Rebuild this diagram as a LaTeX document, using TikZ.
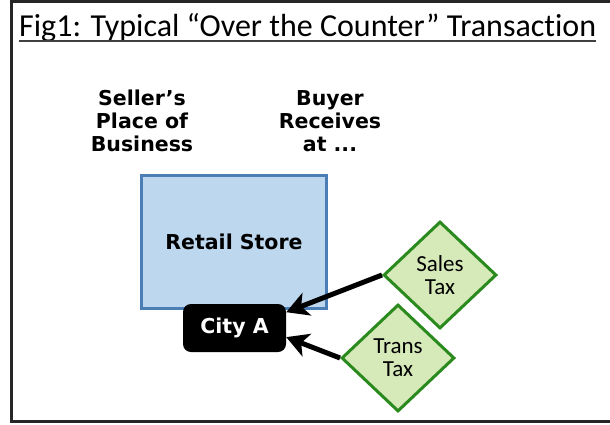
\documentclass[tikz,border=0pt]{standalone}
\usepackage{fontspec}
\setmainfont{Carlito}[Ligatures=NoCommon]
\newfontfamily\labelfont{DejaVu Sans}
\usetikzlibrary{arrows.meta, positioning, shapes}

\definecolor{storeblue}{HTML}{BDD7EE}
\definecolor{storeline}{HTML}{4A7EB5}
\definecolor{taxgreen}{HTML}{D6E9B8}
\definecolor{taxline}{HTML}{2A8A1E}

\begin{document}
\begin{tikzpicture}[x=1pt, y=-1pt, every node/.style={font=\fontsize{23}{23}\selectfont}]
    	\tikzstyle{lbl}=[align=center,anchor=north,inner sep=0pt,font=\labelfont\bfseries\fontsize{20.5}{23}\selectfont]
    	\tikzstyle{store}=[draw=storeline,line width=3pt,fill=storeblue,minimum width=185pt,minimum height=133pt,font=\labelfont\bfseries\fontsize{20.5}{24}\selectfont]
    	\tikzstyle{city}=[fill=black,text=white,rounded corners=8pt,minimum width=103pt,minimum height=48pt,font=\labelfont\bfseries\fontsize{20.5}{24}\selectfont]
    	\tikzstyle{tax}=[diamond,draw=taxline,line width=3pt,fill=taxgreen,inner sep=0pt,align=center,minimum width=113pt,minimum height=107pt]
    	\tikzstyle{arr}=[line width=5pt,-{Stealth[length=22pt,width=24pt,inset=6pt]}]
    \useasboundingbox (0,0) rectangle (610,424);
    \draw[line width=3pt,black!85] (11,1) rectangle (640,421);
    \node[anchor=base west,inner sep=0pt,font=\fontsize{32}{38}\selectfont] (title) at (19,36) {Fig1: Typical “Over the Counter” Transaction};
    \draw[line width=1.5pt,black!75] ([yshift=-5pt]title.base west) -- ([yshift=-5pt]title.base east);
    \node[lbl] (seller) at (142,90) {Seller’s\\Place of\\Business};
    \node[lbl] (buyer) at (330,90) {Buyer\\Receives\\at ...};
    \node[store] (store) at (234,242) {Retail Store};
    \node[city] (city) at (234.5,328) {City A};
    \node[tax] (sales) at (440,275) {Sales\\Tax};
    \node[tax] (trans) at (398,358) {Trans\\Tax};
    \draw[arr] (sales.west) -- (city.17);
    \draw[arr] (trans.west) -- (city.-10);
  \end{tikzpicture}
\end{document}
